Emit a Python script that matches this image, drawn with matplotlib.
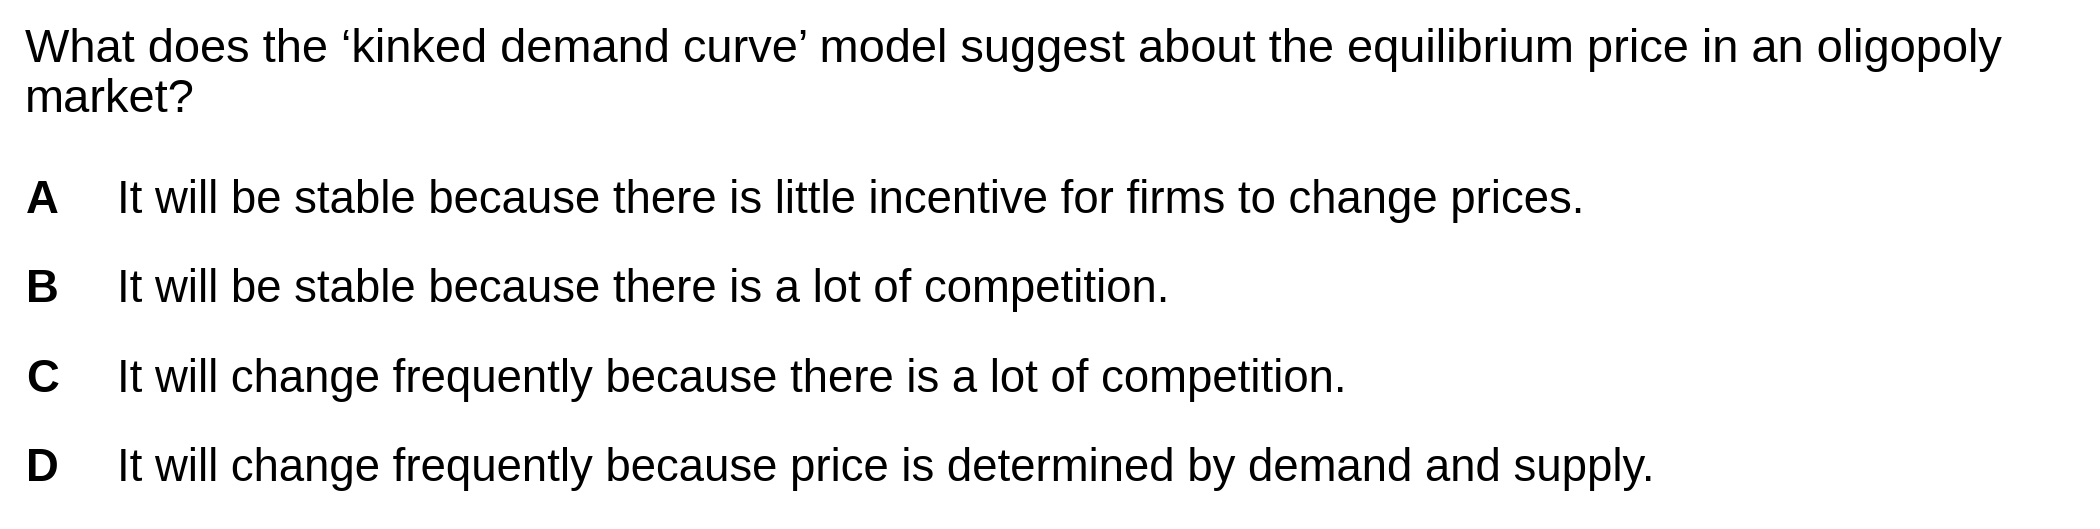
import matplotlib
matplotlib.use("Agg")
import matplotlib.pyplot as plt

question_lines = [
    "What does the \u2018kinked demand curve\u2019 model suggest about the equilibrium price in an oligopoly",
    "market?",
]
option_letters = ["A", "B", "C", "D"]
option_texts = [
    "It will be stable because there is little incentive for firms to change prices.",
    "It will be stable because there is a lot of competition.",
    "It will change frequently because there is a lot of competition.",
    "It will change frequently because price is determined by demand and supply.",
]

W, H = 2100, 529
Q_FS = 33.8
OPT_FS = 32.8
FAMILY = ["Liberation Sans", "DejaVu Sans"]

fig = plt.figure(figsize=(W / 100, H / 100), dpi=100)
fig.patch.set_facecolor("white")


def put(x_px, y_px, s, fs, **kw):
    # pixel coords measured from the top-left corner
    fig.text(x_px / W, 1 - y_px / H, s, fontsize=fs, family=FAMILY,
             va="baseline", ha="left", color="black", **kw)


q_baselines = [62, 112]
for y, line in zip(q_baselines, question_lines):
    put(25, y, line, Q_FS)

opt_baselines = [213, 302, 392, 481]
for y, letter, text in zip(opt_baselines, option_letters, option_texts):
    put(26, y, letter, OPT_FS, fontweight="bold")
    put(117, y, text, OPT_FS)

fig.savefig("out.png", dpi=100, facecolor="white")
